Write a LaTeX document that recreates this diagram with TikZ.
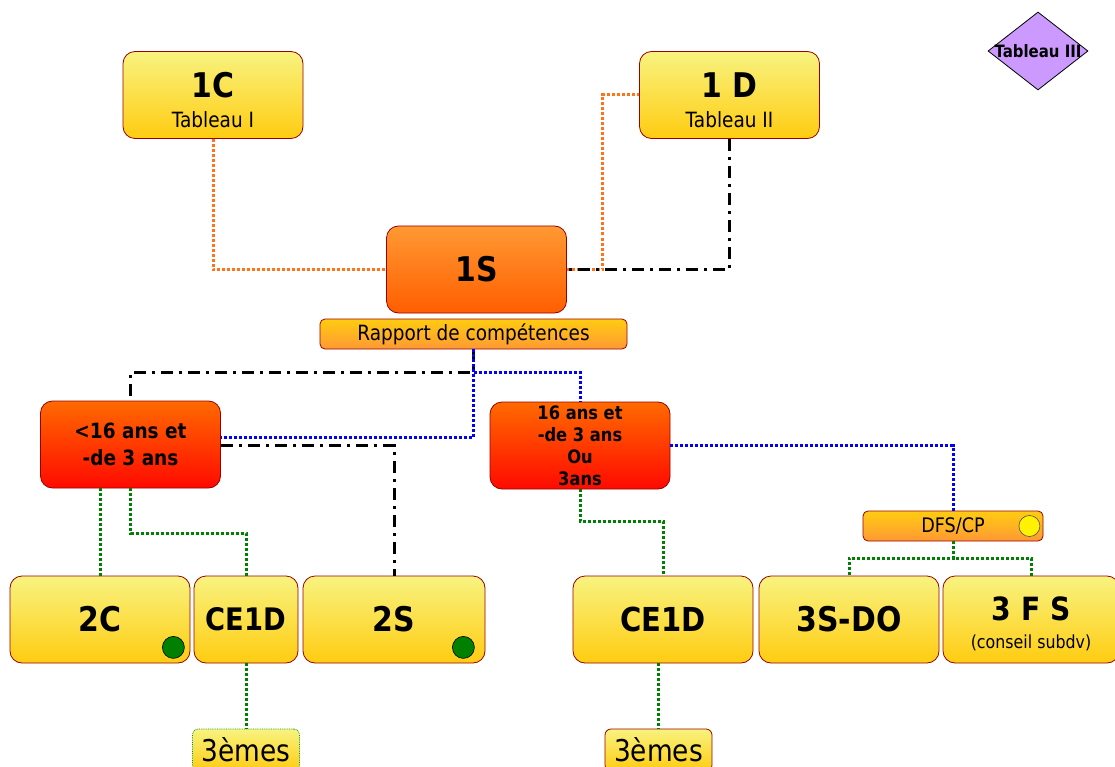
\documentclass[tikz,border=0pt]{standalone}
\usepackage{fontspec}
\setmainfont{DejaVu Sans}[FakeStretch=0.88]
\usepackage{tikz}
\usetikzlibrary{shapes.geometric,calc}

\definecolor{boxred}{HTML}{990000}
\definecolor{yelA}{HTML}{F8F380}
\definecolor{yelB}{HTML}{FFCC11}
\definecolor{orgA}{HTML}{FF9933}
\definecolor{orgB}{HTML}{FF5E00}
\definecolor{redA}{HTML}{FF6A00}
\definecolor{redB}{HTML}{FF0A00}
\definecolor{lineorg}{HTML}{FF7418}
\definecolor{linegreen}{HTML}{008000}
\definecolor{tabpurple}{HTML}{CC99FF}

\newcommand\fsz[2]{\fontsize{#1}{#2}\selectfont}

\tikzset{
  box/.style={draw=boxred, line width=0.8pt, rounded corners=12pt,
    minimum width=180pt, minimum height=87pt, inner sep=1pt, align=center,
    top color=yelA, bottom color=yelB},
  orgbox/.style={box, top color=orgA, bottom color=orgB},
  redbox/.style={box, top color=redA, bottom color=redB},
  bar/.style={box, rounded corners=5pt, minimum height=30pt,
    top color=yelB, bottom color=orgA},
  tbox/.style={box, rounded corners=6pt, minimum width=107pt, minimum height=42pt},
  orangedot/.style={draw=lineorg, line width=3pt, dash pattern=on 3pt off 2pt},
  bluedot/.style={draw=blue, line width=3pt, dash pattern=on 3pt off 2pt},
  greendot/.style={draw=linegreen, line width=3pt, dash pattern=on 3pt off 2pt},
  dashdot/.style={draw=black, line width=3pt, dash pattern=on 12pt off 6pt on 3pt off 6pt},
  gdot/.style={circle, draw=black, line width=0.6pt, fill=linegreen, minimum size=22pt, inner sep=0pt},
  ydot/.style={circle, draw=black!70, line width=0.6pt, fill=yellow, minimum width=21pt, inner sep=0pt}
}

\begin{document}
\begin{tikzpicture}[x=1pt,y=-1pt]
  \useasboundingbox (0,0) rectangle (1115,767);

  % top row
  \node[box, font=\fsz{21}{30}] (c1) at (213,95) {{\fsz{34}{36}\bfseries\rule{0pt}{35pt}1C}\\Tableau I};
  \node[box, font=\fsz{21}{30}] (d1) at (729.5,95) {{\fsz{34}{36}\bfseries\rule{0pt}{35pt}1 D}\\Tableau II};
  \node[diamond, draw=black, line width=0.8pt, fill=tabpurple, minimum width=100pt,
        minimum height=78pt, inner sep=0pt,
        label={[font=\fsz{17}{17}\bfseries]center:Tableau III}] (t3) at (1038,51) {};

  % 1S and its bar
  \node[orgbox, font=\fsz{34}{36}\bfseries] (s1) at (476.5,269.5) {1S};
  \node[bar, minimum width=307pt, font=\fsz{21}{21}] (rap) at (473.5,334) {Rapport de compétences};

  % age groups
  \node[redbox, font=\fsz{21}{27}\bfseries] (m1) at (130.5,444.5) {<16 ans et\\-de 3 ans};
  \node[redbox, font=\fsz{18.5}{22}\bfseries] (p1) at (580,445.5) {16 ans et\\-de 3 ans\\Ou\\3ans};
  \node[bar, font=\fsz{20}{20}] (dfs) at (953,526) {DFS/CP};
  \node[ydot] (y1) at ([xshift=-14pt]dfs.east) {};

  % bottom row
  \node[box, font=\fsz{34}{36}\bfseries] (c2) at (100,619.5) {2C};
  \node[box, minimum width=104pt, font=\fsz{31}{33}\bfseries] (ce1) at (246,619.5) {CE1D};
  \node[box, minimum width=182pt, font=\fsz{34}{36}\bfseries] (s2) at (394,619.5) {2S};
  \node[box, font=\fsz{33}{36}\bfseries] (ce2) at (663,619.5) {CE1D};
  \node[box, font=\fsz{34}{36}\bfseries] (sdo) at (849,619.5) {3S-DO};
  \node[box, minimum width=176pt, font=\fsz{18}{28}] (fs) at (1031,619.5)
        {{\fsz{32}{34}\bfseries\rule{0pt}{33pt}3 F S}\\(conseil subdv)};
  \node[gdot] (g1) at ([shift={(-17pt,16pt)}]c2.south east) {};
  \node[gdot] (g2) at ([shift={(-22pt,16pt)}]s2.south east) {};

  % 3emes
  \node[tbox, draw=green!60!black, densely dotted, font=\fsz{30}{30}] (t1) at (246,750) {3èmes};
  \node[tbox, font=\fsz{30}{30}] (t2) at (658.5,750) {3èmes};

  % links to 1S
  \draw[orangedot] (c1.south) |- (s1.west);
  \draw[orangedot] (s1.east) -- ++(36,0) |- (d1.west);
  \draw[dashdot] (d1.south) |- (s1.east);

  % links from the bar
  \draw[dashdot] (rap.south) -- ++(0,23) -| (m1.north);
  \draw[bluedot] (rap.south) |- ([yshift=7pt]m1.east);
  \draw[bluedot] ([yshift=-23pt]rap.south) -| (p1.north);

  % left group
  \draw[dashdot] ([yshift=-1pt]m1.east) -| (s2.north);
  \draw[greendot] (c2.north |- m1.south) -- (c2.north);
  \draw[greendot] (m1.south) -- ++(0,45) -| (ce1.north);
  \draw[greendot] (ce1.south) -- (t1.north);

  % right group
  \draw[bluedot] (p1.east) -| (dfs.north);
  \draw[greendot] (p1.south) -- ++(0,32) -| (ce2.north);
  \draw[greendot] (t2.north |- ce2.south) -- (t2.north);
  \draw[greendot] (dfs.south) -- ++(0,17) -| (sdo.north);
  \draw[greendot] (dfs.south) -- ++(0,17) -| (fs.north);
\end{tikzpicture}
\end{document}
